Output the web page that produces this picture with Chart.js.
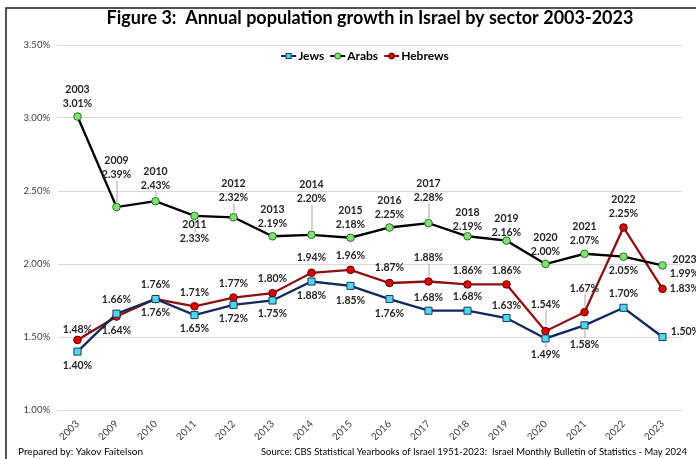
<!DOCTYPE html>
<html>
<head>
<meta charset="utf-8">
<script src="https://cdn.jsdelivr.net/npm/chart.js@4.4.0/dist/chart.umd.min.js"></script>
<style>
    html, body { margin: 0; padding: 0; background: #fff; }
    #growthChart { display: block; }
</style>
</head>
<body>
<canvas id="growthChart" width="696" height="459"></canvas>
<script>
// data (percent per year)
const years = ['2003', '2009', '2010', '2011', '2012', '2013', '2014', '2015',
               '2016', '2017', '2018', '2019', '2020', '2021', '2022', '2023'];
const jews    = [1.40, 1.66, 1.76, 1.65, 1.72, 1.75, 1.88, 1.85, 1.76, 1.68, 1.68, 1.63, 1.49, 1.58, 1.70, 1.50];
const arabs   = [3.01, 2.39, 2.43, 2.33, 2.32, 2.19, 2.20, 2.18, 2.25, 2.28, 2.19, 2.16, 2.00, 2.07, 2.05, 1.99];
const hebrews = [1.48, 1.64, 1.76, 1.71, 1.77, 1.80, 1.94, 1.96, 1.87, 1.88, 1.86, 1.86, 1.54, 1.67, 2.25, 1.83];
const yTicks  = [1.00, 1.50, 2.00, 2.50, 3.00, 3.50];

const chartTitle = 'Figure 3:  Annual population growth in Israel by sector 2003-2023';
const noteLeft = 'Prepared by: Yakov Faitelson';
const noteRight = 'Source: CBS Statistical Yearbooks of Israel 1951-2023:  Israel Monthly Bulletin of Statistics - May 2024';

// label placement (pixel offsets of the value text from its point), year shown above value where flagged
const labelPlacement = {
    jews: [[0,14],[0,-14],[0,-14],[0,14],[0,14],[0,13],[0,14],[0,15],[0,15],[0,-13],[0,-14],[0,-12],[0,16],[0,19],[0,-14],[23,-5]],
    arabs: [[0,-13],[0,-32],[0,-16],[0,23],[0,-20],[0,-13],[0,-36],[0,-13],[0,-13],[0,-26],[0,-10],[0,-8],[0,-12],[0,-13],[0,14],[22,8]],
    hebrews: [[0,-10],[0,14],[0,14],[0,-14],[0,-14],[0,-15],[0,-15],[0,-14],[0,-15],[0,-24],[0,-14],[0,-14],[0,-27],[0,-24],[0,-14],[22,0]]
};
const yearShown = {
    jews: [],
    arabs: [0,1,2,3,4,5,6,7,8,9,10,11,12,13,15],
    hebrews: [14]
};

const FONT = 'Lato, "Open Sans", sans-serif';
const TEXT = '#262626';

const seriesStyle = [
    { key: 'jews', label: 'Jews', data: jews, line: '#10295a', fill: '#4fd7ee', border: '#1b3b5c', shape: 'rect', radius: 5 },
    { key: 'arabs', label: 'Arabs', data: arabs, line: '#000000', fill: '#7fe36f', border: '#2f6b2a', shape: 'circle', radius: 3.8 },
    { key: 'hebrews', label: 'Hebrews', data: hebrews, line: '#8c1111', fill: '#e00000', border: '#5a0000', shape: 'circle', radius: 3.8 }
];

function drawLegend(ctx) {
    ctx.font = 'bold 12px ' + FONT;
    ctx.textBaseline = 'middle';
    ctx.textAlign = 'left';
    const icon = 15, gap = 2, between = 6;
    const widths = seriesStyle.map(s => icon + gap + ctx.measureText(s.label).width);
    const total = widths.reduce((a, b) => a + b, 0) + between * (widths.length - 1);
    let x = 365 - total / 2;
    const y = 56;
    seriesStyle.forEach((s, i) => {
        ctx.strokeStyle = s.line;
        ctx.lineWidth = 2;
        ctx.beginPath(); ctx.moveTo(x, y); ctx.lineTo(x + icon, y); ctx.stroke();
        ctx.fillStyle = s.fill; ctx.strokeStyle = s.border; ctx.lineWidth = 1;
        const cx = x + icon / 2;
        if (s.shape === 'rect') {
            ctx.fillRect(cx - 3, y - 3, 6, 6);
            ctx.strokeRect(cx - 2.5, y - 2.5, 5, 5);
        } else {
            ctx.beginPath(); ctx.arc(cx, y, 3, 0, Math.PI * 2); ctx.fill(); ctx.stroke();
        }
        ctx.fillStyle = '#000';
        ctx.fillText(s.label, x + icon + gap, y);
        x += widths[i] + between;
    });
}

const frameAndText = {
    id: 'frameAndText',
    beforeDraw(chart) {
        const ctx = chart.ctx;
        ctx.save();
        ctx.fillStyle = '#fff';
        ctx.fillRect(0, 0, chart.width, chart.height);
        ctx.strokeStyle = '#1a1a1a';
        ctx.lineWidth = 1.5;
        ctx.strokeRect(6, 8, 720, 480);
        ctx.restore();
    },
    afterDraw(chart) {
        const ctx = chart.ctx;
        ctx.save();
        ctx.fillStyle = '#000';
        ctx.textBaseline = 'middle';
        ctx.textAlign = 'center';
        ctx.font = 'bold 18px ' + FONT;
        ctx.fillText(chartTitle, 370, 18, 534);
        ctx.font = '10px ' + FONT;
        ctx.textAlign = 'left';
        ctx.fillText(noteLeft, 18, 452, 125);
        ctx.textAlign = 'right';
        ctx.fillText(noteRight, 687, 452, 426);
        drawLegend(ctx);
        ctx.restore();
    }
};

const pointLabels = {
    id: 'pointLabels',
    afterDatasetsDraw(chart) {
        const ctx = chart.ctx;
        ctx.save();
        ctx.font = 'bold 10.5px ' + FONT;
        ctx.textAlign = 'center';
        ctx.textBaseline = 'middle';
        chart.data.datasets.forEach((ds, i) => {
            const key = seriesStyle[i].key;
            const meta = chart.getDatasetMeta(i);
            meta.data.forEach((pt, j) => {
                const [dx, dy] = labelPlacement[key][j];
                const withYear = yearShown[key].includes(j);
                const tx = pt.x + dx, ty = pt.y + dy;
                // leader line for labels set away from their point
                if (dx === 0 && Math.abs(dy) - 10 > 5) {
                    ctx.strokeStyle = '#a6a6a6';
                    ctx.lineWidth = 1;
                    ctx.beginPath();
                    if (dy < 0) {
                        ctx.moveTo(pt.x + 0.5, pt.y - 5);
                        ctx.lineTo(pt.x + 0.5, ty + 6);
                    } else {
                        ctx.moveTo(pt.x + 0.5, pt.y + 5);
                        ctx.lineTo(pt.x + 0.5, ty - 6);
                    }
                    ctx.stroke();
                }
                ctx.fillStyle = TEXT;
                ctx.fillText(ds.data[j].toFixed(2) + '%', tx, ty);
                if (withYear) ctx.fillText(years[j], tx, ty - 14);
            });
        });
        ctx.restore();
    }
};

new Chart(document.getElementById('growthChart'), {
    type: 'line',
    data: {
        labels: years,
        datasets: seriesStyle.map(s => ({
            label: s.label,
            data: s.data,
            borderColor: s.line,
            backgroundColor: s.fill,
            borderWidth: 2.3,
            pointStyle: s.shape,
            pointRadius: s.radius,
            pointBackgroundColor: s.fill,
            pointBorderColor: s.border,
            pointBorderWidth: 1,
            tension: 0
        }))
    },
    options: {
        responsive: false,
        animation: false,
        devicePixelRatio: 1,
        layout: { padding: { top: 45, left: 6, right: 14, bottom: 19 } },
        plugins: {
            title: { display: false },
            tooltip: { enabled: false },
            legend: { display: false }
        },
        scales: {
            x: {
                offset: true,
                grid: { display: false },
                border: { display: false },
                ticks: {
                    minRotation: 45,
                    maxRotation: 45,
                    padding: 0,
                    color: '#404040',
                    font: { family: FONT, size: 10 }
                },
                afterFit(scale) { scale.height = 30; }
            },
            y: {
                min: 1,
                max: 3.5,
                border: { display: false },
                grid: { color: '#d9d9d9', lineWidth: 1, drawTicks: false },
                afterBuildTicks(scale) { scale.ticks = yTicks.map(v => ({ value: v })); },
                ticks: {
                    padding: 8,
                    color: '#404040',
                    font: { family: FONT, size: 9.5 },
                    callback: v => Number(v).toFixed(2) + '%'
                },
                afterFit(scale) { scale.width = 52; }
            }
        }
    },
    plugins: [frameAndText, pointLabels]
});
</script>
</body>
</html>
